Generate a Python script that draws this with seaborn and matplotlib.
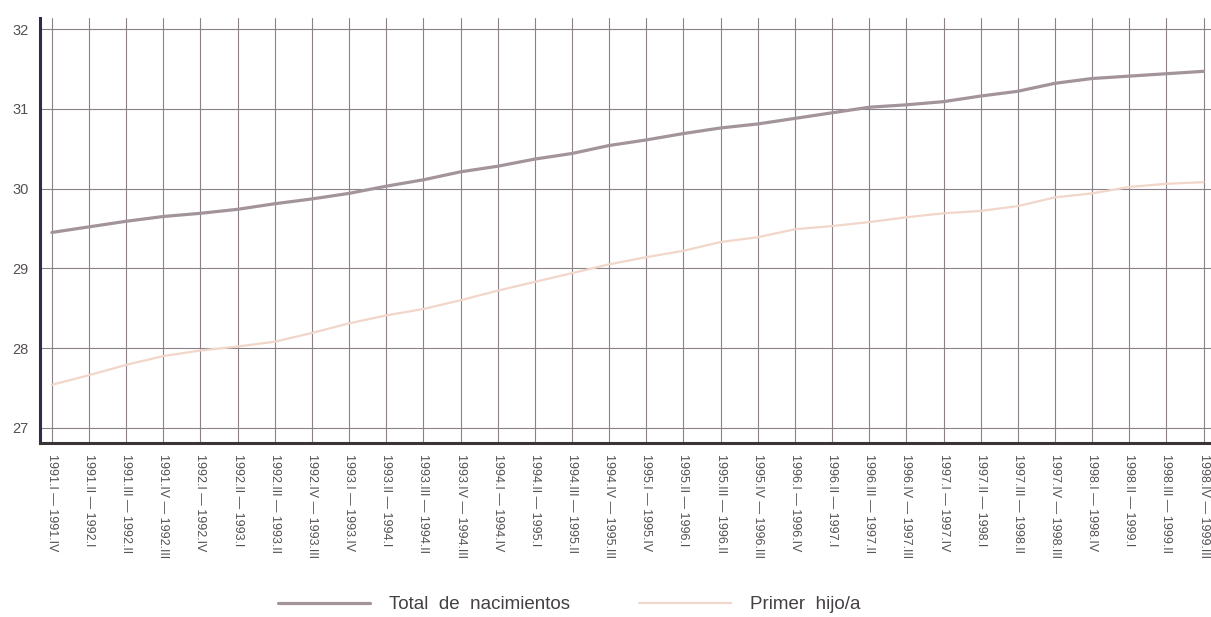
import numpy as np
import pandas as pd
import matplotlib
matplotlib.use("Agg")
import matplotlib.pyplot as plt
import seaborn as sns

# Periodos (medias móviles de cuatro trimestres)
periodos = [
    "1991.I — 1991.IV", "1991.II — 1992.I", "1991.III — 1992.II", "1991.IV — 1992.III",
    "1992.I — 1992.IV", "1992.II — 1993.I", "1992.III — 1993.II", "1992.IV — 1993.III",
    "1993.I — 1993.IV", "1993.II — 1994.I", "1993.III — 1994.II", "1993.IV — 1994.III",
    "1994.I — 1994.IV", "1994.II — 1995.I", "1994.III — 1995.II", "1994.IV — 1995.III",
    "1995.I — 1995.IV", "1995.II — 1996.I", "1995.III — 1996.II", "1995.IV — 1996.III",
    "1996.I — 1996.IV", "1996.II — 1997.I", "1996.III — 1997.II", "1996.IV — 1997.III",
    "1997.I — 1997.IV", "1997.II — 1998.I", "1997.III — 1998.II", "1997.IV — 1998.III",
    "1998.I — 1998.IV", "1998.II — 1999.I", "1998.III — 1999.II", "1998.IV — 1999.III",
]

total_nacimientos = [
    29.45, 29.52, 29.59, 29.65, 29.69, 29.74, 29.81, 29.87,
    29.94, 30.03, 30.11, 30.21, 30.28, 30.37, 30.44, 30.54,
    30.61, 30.69, 30.76, 30.81, 30.88, 30.95, 31.02, 31.05,
    31.09, 31.16, 31.22, 31.32, 31.38, 31.41, 31.44, 31.47,
]

primer_hijo = [
    27.54, 27.66, 27.79, 27.90, 27.97, 28.02, 28.08, 28.19,
    28.31, 28.41, 28.49, 28.60, 28.72, 28.83, 28.94, 29.05,
    29.14, 29.22, 29.33, 29.39, 29.49, 29.53, 29.58, 29.64,
    29.69, 29.72, 29.78, 29.89, 29.94, 30.02, 30.06, 30.08,
]

series = ["Total  de  nacimientos", "Primer  hijo/a"]
colores = {series[0]: "#a3949b", series[1]: "#f1d6c9"}
grosores = {series[0]: 2.3, series[1]: 1.6}

df = pd.DataFrame({
    "periodo": periodos * 2,
    "valor": total_nacimientos + primer_hijo,
    "serie": [series[0]] * len(periodos) + [series[1]] * len(periodos),
})

sns.set_style("white")
plt.rcParams["font.family"] = ["Liberation Sans", "DejaVu Sans"]

fig = plt.figure(figsize=(12.11, 6.17), dpi=100)
ax = fig.add_axes([0.033, 0.282, 0.967, 0.689])

for s in series:
    sub = df[df["serie"] == s]
    sns.lineplot(data=sub, x="periodo", y="valor", color=colores[s],
                 linewidth=grosores[s], sort=False, ax=ax, label=s)

ax.set_xlim(-0.32, 31.2)
ax.set_ylim(26.81, 32.14)
ax.set_yticks([27, 28, 29, 30, 31, 32])
ax.set_xticks(range(len(periodos)))
ax.set_xticklabels(periodos, rotation=-90, fontsize=9, color="#555055")
ax.tick_params(axis="y", labelsize=10.5, labelcolor="#555055", length=0, pad=8)
ax.tick_params(axis="x", length=0, pad=8)
ax.set_xlabel("")
ax.set_ylabel("")

ax.grid(True, color="#8c8189", linewidth=0.8)
ax.set_axisbelow(True)

for side in ["top", "right"]:
    ax.spines[side].set_visible(False)
ax.spines["left"].set_color("#2e2b4c")
ax.spines["left"].set_linewidth(2.2)
ax.spines["bottom"].set_color("#3b3437")
ax.spines["bottom"].set_linewidth(2.2)

handles, labels = ax.get_legend_handles_labels()
ax.get_legend().remove()
fig.legend(handles, labels, loc="center", bbox_to_anchor=(0.47, 0.02),
           ncol=2, frameon=False, fontsize=13.5, handlelength=4.9,
           handletextpad=1.0, columnspacing=3.7, labelcolor="#444044")

fig.savefig("out.png", dpi=100)
